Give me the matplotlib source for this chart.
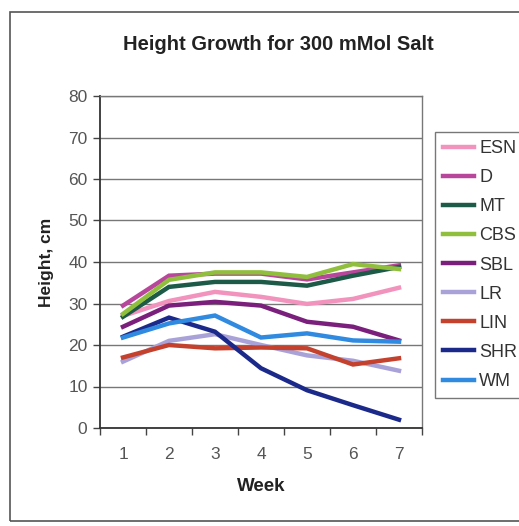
import matplotlib
matplotlib.use("Agg")
import matplotlib.pyplot as plt
from matplotlib.patches import Rectangle

plt.rcParams['font.family'] = ['Liberation Sans', 'DejaVu Sans']

# data
weeks = [1, 2, 3, 4, 5, 6, 7]
esn = [27.0, 30.6, 32.8, 31.6, 29.9, 31.1, 33.8]
d = [29.5, 36.7, 37.2, 37.2, 35.8, 37.5, 39.2]
mt = [26.8, 34.0, 35.2, 35.2, 34.3, 36.7, 38.8]
cbs = [27.5, 35.7, 37.5, 37.5, 36.4, 39.5, 38.3]
sbl = [24.4, 29.5, 30.4, 29.5, 25.6, 24.4, 21.1]
lr = [16.0, 21.0, 22.6, 20.0, 17.5, 16.2, 13.8]
lin = [17.0, 20.0, 19.2, 19.4, 19.2, 15.3, 16.8]
shr = [22.0, 26.6, 23.2, 14.4, 9.1, 5.5, 2.0]
wm = [21.8, 25.2, 27.1, 21.8, 22.8, 21.1, 20.8]

names = ["ESN", "D", "MT", "CBS", "SBL", "LR", "LIN", "SHR", "WM"]
series = [esn, d, mt, cbs, sbl, lr, lin, shr, wm]
colors = ["#f293bd", "#b8479c", "#1d5a47", "#8fbf3c", "#7a1f7c",
          "#a9a2d9", "#c4412e", "#1b2a8a", "#2f8ae0"]

W, H = 519, 526
fig = plt.figure(figsize=(W / 100, H / 100), dpi=100)
fig.patch.set_facecolor("white")

# outer chart frame (runs off the right edge like the screenshot)
fig.patches.append(Rectangle((10 / W, 1 - 521 / H), 600 / W, 509 / H,
                             transform=fig.transFigure, fill=False,
                             edgecolor="#555555", lw=1.2))

ax = fig.add_axes([100 / W, 1 - 428 / H, 322 / W, 332 / H])

for vals, name, c in zip(series, names, colors):
    ax.plot(weeks, vals, color=c, lw=3.2, label=name, solid_joinstyle="miter")

ax.set_xlim(0.5, 7.5)
ax.set_ylim(0, 80)
ax.set_yticks(range(0, 81, 10))
ax.set_xticks(weeks)
ax.set_xticks([x + 0.5 for x in range(0, 8)], minor=True)
ax.tick_params(axis="x", which="major", length=0, pad=14)
ax.tick_params(axis="x", which="minor", length=5, width=1, color="#444444")
ax.tick_params(axis="y", length=5, width=1, color="#444444", pad=4)
ax.tick_params(labelsize=12.5, labelcolor="#555555")

ax.yaxis.grid(True, color="#777777", lw=1)
ax.set_axisbelow(True)
for s in ["top", "right"]:
    ax.spines[s].set_color("#777777")
    ax.spines[s].set_linewidth(1)
for s in ["left", "bottom"]:
    ax.spines[s].set_color("#333333")
    ax.spines[s].set_linewidth(1.3)

ax.set_xlabel("Week", fontsize=13.5, fontweight="bold", color="#222222", labelpad=11)
ax.set_ylabel("Height, cm", fontsize=12.5, fontweight="bold", color="#222222", labelpad=10)

fig.text(278 / W, 1 - 44 / H, "Height Growth for 300 mMol Salt", ha="center",
         va="center", fontsize=14.5, fontweight="bold", color="#222222")

leg = fig.legend(loc="upper left", bbox_to_anchor=(435 / W, 1 - 132 / H),
                 frameon=True, fancybox=False, borderaxespad=0, fontsize=13,
                 handlelength=1.7, handletextpad=0.3, labelspacing=0.67,
                 borderpad=0.45)
leg.get_frame().set_edgecolor("#555555")
leg.get_frame().set_linewidth(1)
for t in leg.get_texts():
    t.set_color("#333333")

fig.savefig("out.png", dpi=100, facecolor="white")
